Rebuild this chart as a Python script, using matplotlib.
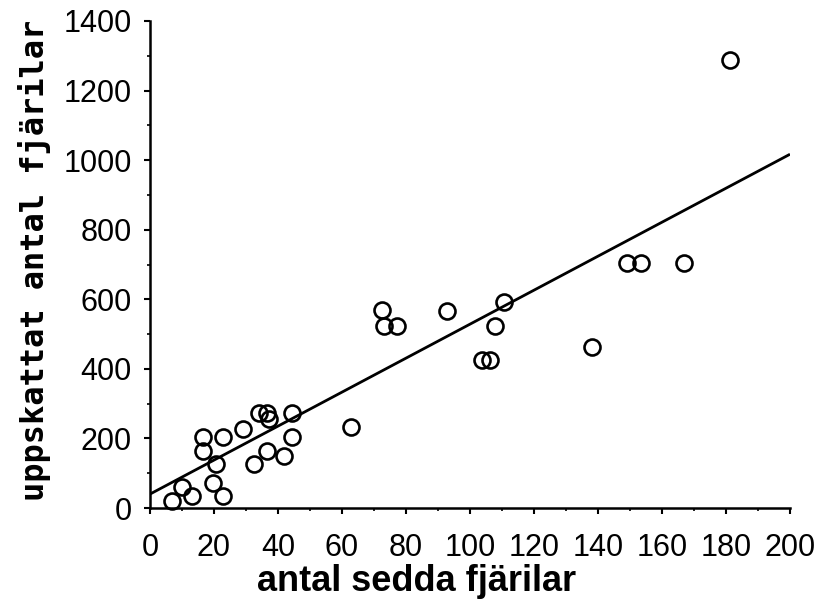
import numpy as np
import matplotlib
matplotlib.use('Agg')
from matplotlib import pyplot as plt
from matplotlib.ticker import MultipleLocator

# antal sedda fjärilar / uppskattat antal fjärilar
sedda = [6.8, 10.1, 13.2, 16.5, 16.5, 19.6, 20.5, 22.9, 22.9, 29.2,
         32.6, 34.0, 36.5, 37.3, 36.5, 42.0, 44.5, 44.5, 62.8,
         72.6, 73.1, 77.1, 92.9, 103.6, 106.3, 107.8, 110.6,
         138.0, 149.0, 153.3, 166.9, 181.3]
uppskattat = [21, 59, 35, 203, 165, 73, 126, 35, 203, 226,
              126, 272, 272, 255, 165, 149, 272, 203, 234,
              569, 524, 524, 567, 425, 425, 524, 593,
              463, 705, 705, 705, 1287]

# regressionslinje
linje_x = [0, 200]
linje_y = [40, 1017]

fig = plt.figure(figsize=(8.17, 6.03), dpi=100)
ax = fig.add_axes([150 / 817, 95 / 603, 640 / 817, 487 / 603])

ax.plot(linje_x, linje_y, color='black', lw=2, solid_capstyle='butt')
ax.plot(sedda, uppskattat, 'o', ms=11.5, mfc='none', mec='black', mew=1.9,
        clip_on=False)

ax.set_xlim(0, 200)
ax.set_ylim(0, 1400)
ax.xaxis.set_major_locator(MultipleLocator(20))
ax.xaxis.set_minor_locator(MultipleLocator(10))
ax.yaxis.set_major_locator(MultipleLocator(200))
ax.yaxis.set_minor_locator(MultipleLocator(100))

for s in ['top', 'right']:
    ax.spines[s].set_visible(False)
for s in ['left', 'bottom']:
    ax.spines[s].set_linewidth(1.8)

ax.tick_params(which='major', length=4, width=1.5, direction='out')
ax.tick_params(which='minor', length=2.5, width=1.2, direction='out')
ax.tick_params(axis='y', which='major', pad=9)
ax.tick_params(axis='x', which='major', pad=14)

for lab in ax.get_yticklabels():
    lab.set_family(['Liberation Sans', 'DejaVu Sans'])
    lab.set_fontsize(22)
for lab in ax.get_xticklabels():
    lab.set_family(['Liberation Sans', 'DejaVu Sans'])
    lab.set_fontsize(22)

ax.set_xlabel('antal sedda fjärilar', fontsize=26, fontweight='bold',
              family=['Liberation Sans', 'DejaVu Sans'])
ax.xaxis.set_label_coords(0.417, -0.115)
ax.set_ylabel('uppskattat antal fjärilar', fontsize=23, fontweight='bold',
              family=['DejaVu Sans Mono'])
ax.yaxis.set_label_coords(-0.155, 0.509)

fig.savefig('out.png', dpi=100)
